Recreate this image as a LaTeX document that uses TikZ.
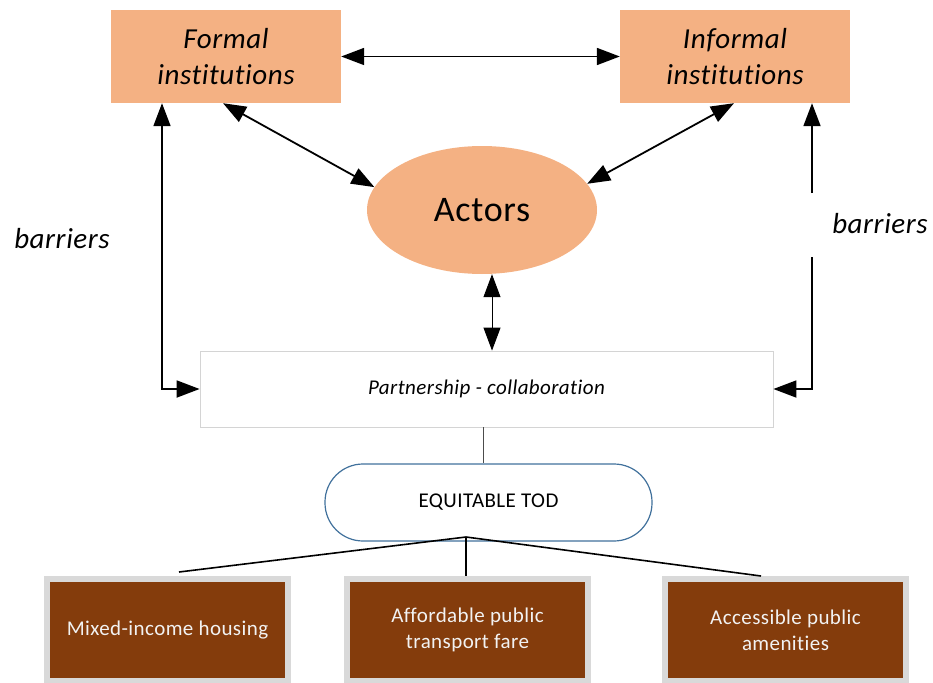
\documentclass[tikz,border=0pt]{standalone}
\usepackage{fontspec}
\setmainfont{Carlito}[Ligatures={NoCommon}, LetterSpace=2]
\usetikzlibrary{arrows.meta,shapes.geometric}
\definecolor{peach}{HTML}{F4B183}
\definecolor{rust}{HTML}{843C0C}
\definecolor{rim}{HTML}{D9D9D9}
\definecolor{todblue}{HTML}{41719C}
\definecolor{paleline}{HTML}{D4D4D4}
\definecolor{lighttext}{HTML}{F2F2F2}
\begin{document}
\begin{tikzpicture}[x=1pt,y=-1pt,
  inst/.style={rectangle, fill=peach, inner sep=0pt, minimum width=230pt,
    minimum height=93pt, align=center, font=\fontsize{29}{36}\selectfont\itshape},
  actorsty/.style={ellipse, fill=peach, inner sep=0pt, minimum width=230pt,
    minimum height=128pt, font=\fontsize{36}{40}\selectfont},
  partsty/.style={rectangle, draw=paleline, line width=0.8pt, fill=white,
    inner sep=0pt, minimum width=573pt, minimum height=76pt,
    font=\fontsize{21}{25}\selectfont\itshape},
  todsty/.style={rectangle, rounded corners=38pt, draw=todblue, line width=1.2pt,
    fill=white, inner sep=0pt, minimum width=327pt, minimum height=77pt,
    font=\fontsize{21}{25}\selectfont},
  outcome/.style={rectangle, draw=rim, line width=6pt, fill=rust, inner sep=0pt,
    minimum width=241pt, minimum height=102pt, align=center, text=lighttext,
    font=\fontsize{21}{26}\selectfont},
  label/.style={font=\fontsize{29}{35}\selectfont\itshape},
  bighead/.style={Triangle[length=23pt,width=17pt]},
  twoway/.style={{Triangle[length=23pt,width=17pt]}-{Triangle[length=23pt,width=17pt]}, line width=1.8pt},
  oneway/.style={-{Triangle[length=23pt,width=17pt]}, line width=1.8pt},
  branch/.style={line width=1.6pt}
]
\useasboundingbox (0,0) rectangle (933,682);

% institutions and actors
\node[inst] (formal) at (226,56.5) {Formal\\institutions};
\node[inst] (informal) at (735,56.5) {Informal\\institutions};
\node[actorsty] (actors) at (482,210) {Actors};

% partnership and outcome
\node[partsty] (partner) at (486.5,389) {Partnership - collaboration};
\node[todsty] (tod) at (488.5,502.5) {EQUITABLE TOD};

\node[outcome] (housing) at (167.5,630) {Mixed-income housing};
\node[outcome] (fare) at (467.5,630) {Affordable public\\transport fare};
\node[outcome] (amen) at (785.5,630) {Accessible public\\amenities};

% barrier labels
\node[label] (bl) at (62,239) {barriers};
\node[label] (br) at (880,224) {barriers};

% helper coordinates
\coordinate (lb) at (162,0);
\coordinate (rbtop) at (812,193);
\coordinate (rbbot) at (812,257);
\coordinate (fa) at (223,0);
\coordinate (ia) at (734,0);
\coordinate (ap) at (492,0);
\coordinate (pt) at (483,0);
\coordinate (hub) at (466,537);
\coordinate (endl) at (179,572);
\coordinate (endr) at (761,576);

% arrows among institutions and actors
\draw[twoway] (formal.east) -- (informal.west);
\draw[twoway] (formal.south -| fa) -- (actors.168);
\draw[twoway] (informal.south -| ia) -- (actors.14);
\draw[{Triangle[length=23pt,width=17pt]}-{Triangle[length=23pt,width=17pt]}, line width=0.9pt]
  (actors.south -| ap) -- (partner.north -| ap);

% barrier arrows
\draw[twoway] (formal.south -| lb) |- (partner.west);
\draw[oneway] (rbtop) -- (informal.south -| rbtop);
\draw[oneway] (rbbot) |- (partner.east);

% partnership to equitable TOD
\draw[line width=0.9pt, black!70] (partner.south -| pt) -- (tod.north -| pt);

% branches to outcomes
\draw[branch] (hub) -- (endl);
\draw[branch] (hub) -- (fare.north -| hub);
\draw[branch] (hub) -- (endr);
\end{tikzpicture}
\end{document}
